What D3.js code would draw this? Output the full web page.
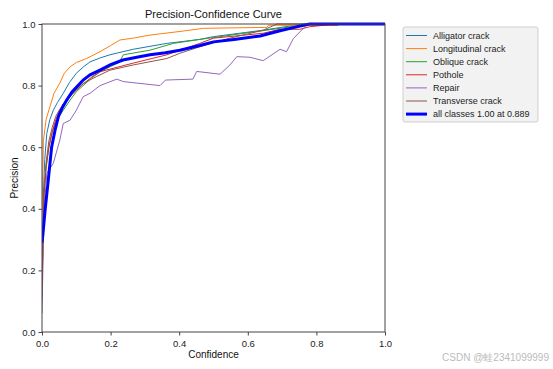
<!DOCTYPE html>
<html>
<head>
<meta charset="utf-8">
<script src="https://cdn.jsdelivr.net/npm/d3@7"></script>
<style>
  body { margin: 0; background: #fff; }
  text { font-family: "Liberation Sans", Arial, sans-serif; }
</style>
</head>
<body>
<div id="chart"></div>
<script>
// Precision-Confidence curve, values

var classNames = ["Alligator crack", "Longitudinal crack", "Oblique crack", "Pothole", "Repair", "Transverse crack"]
var allLabel = "all classes 1.00 at 0.889"

var alligatorConf = [0, 0.003, 0.008, 0.014, 0.023, 0.033, 0.045, 0.062, 0.08, 0.1, 0.12, 0.14, 0.17, 0.198, 0.266, 0.364, 0.46, 0.5, 0.645, 0.743, 0.76, 1]
var alligatorPrec = [0.1, 0.42, 0.56, 0.645, 0.69, 0.72, 0.745, 0.775, 0.81, 0.84, 0.86, 0.877, 0.89, 0.9, 0.918, 0.937, 0.95, 0.959, 0.98, 0.997, 1, 1]

var longConf = [0, 0.004, 0.012, 0.023, 0.035, 0.052, 0.065, 0.082, 0.1, 0.13, 0.169, 0.2, 0.227, 0.27, 0.315, 0.411, 0.47, 0.656, 0.66, 0.86, 0.87, 1]
var longPrec = [0.35, 0.62, 0.69, 0.731, 0.775, 0.808, 0.84, 0.861, 0.875, 0.888, 0.91, 0.93, 0.948, 0.955, 0.964, 0.977, 0.986, 0.989, 0.996, 0.995, 1, 1]

var obliqueConf = [0, 0.006, 0.012, 0.02, 0.03, 0.04, 0.05, 0.062, 0.082, 0.1, 0.12, 0.145, 0.17, 0.2, 0.225, 0.237, 0.315, 0.383, 0.46, 0.5, 0.694, 0.763, 0.78, 1]
var obliquePrec = [0.2, 0.45, 0.53, 0.6, 0.65, 0.68, 0.7, 0.72, 0.753, 0.78, 0.8, 0.825, 0.845, 0.862, 0.875, 0.9, 0.915, 0.937, 0.95, 0.956, 0.986, 0.997, 1, 1]

var potholeConf = [0, 0.006, 0.012, 0.02, 0.03, 0.04, 0.05, 0.062, 0.082, 0.1, 0.12, 0.145, 0.169, 0.266, 0.364, 0.46, 0.5, 0.645, 0.694, 0.752, 0.78, 0.83, 0.84, 1]
var potholePrec = [0.15, 0.45, 0.54, 0.6, 0.65, 0.69, 0.715, 0.74, 0.765, 0.785, 0.805, 0.828, 0.845, 0.873, 0.9, 0.937, 0.954, 0.97, 0.983, 0.983, 0.991, 0.997, 1, 1]

var repairConf = [0, 0.006, 0.014, 0.033, 0.052, 0.062, 0.082, 0.1, 0.12, 0.14, 0.169, 0.218, 0.237, 0.344, 0.36, 0.44, 0.451, 0.519, 0.548, 0.568, 0.606, 0.645, 0.694, 0.713, 0.733, 0.772, 0.78, 1]
var repairPrec = [0.06, 0.4, 0.515, 0.548, 0.623, 0.677, 0.688, 0.72, 0.764, 0.775, 0.8, 0.821, 0.813, 0.8, 0.818, 0.821, 0.846, 0.837, 0.867, 0.894, 0.892, 0.881, 0.918, 0.91, 0.953, 0.997, 1, 1]

var transConf = [0, 0.006, 0.012, 0.02, 0.03, 0.04, 0.05, 0.062, 0.09, 0.12, 0.16, 0.198, 0.266, 0.364, 0.402, 0.46, 0.548, 0.645, 0.685, 0.7, 1]
var transPrec = [0.12, 0.45, 0.55, 0.62, 0.665, 0.7, 0.72, 0.74, 0.775, 0.807, 0.83, 0.85, 0.867, 0.888, 0.905, 0.926, 0.954, 0.98, 1, 1, 1]

var allConf = [0, 0.002, 0.009, 0.018, 0.028, 0.038, 0.048, 0.06, 0.072, 0.088, 0.105, 0.12, 0.14, 0.169, 0.2, 0.236, 0.28, 0.315, 0.36, 0.402, 0.46, 0.5, 0.56, 0.636, 0.694, 0.752, 0.78, 1]
var allPrec = [0.29, 0.31, 0.395, 0.49, 0.6, 0.655, 0.7, 0.73, 0.753, 0.78, 0.8, 0.818, 0.835, 0.85, 0.868, 0.883, 0.893, 0.9, 0.907, 0.915, 0.93, 0.942, 0.95, 0.961, 0.978, 0.993, 1, 1]

var colors = ["#1f77b4", "#ff7f0e", "#2ca02c", "#d62728", "#9467bd", "#8c564b"]
var xTicks = [0, 0.2, 0.4, 0.6, 0.8, 1.0]
var yTicks = [0, 0.2, 0.4, 0.6, 0.8, 1.0]

var series = [
  {conf: alligatorConf, prec: alligatorPrec},
  {conf: longConf, prec: longPrec},
  {conf: obliqueConf, prec: obliquePrec},
  {conf: potholeConf, prec: potholePrec},
  {conf: repairConf, prec: repairPrec},
  {conf: transConf, prec: transPrec}
]

var width = 553, height = 369
var margin = {top: 24, left: 42, right: 168, bottom: 37}

var svg = d3.select("#chart")
  .append("svg")
    .attr("width", width)
    .attr("height", height)

var x = d3.scaleLinear().domain([0, 1]).range([margin.left, width - margin.right])
var y = d3.scaleLinear().domain([0, 1]).range([height - margin.bottom, margin.top])

var line = d3.line()
  .x(function(d) { return x(d[0]) })
  .y(function(d) { return y(d[1]) })

var clip = svg.append("clipPath").attr("id", "clip")
  .append("rect")
    .attr("x", x(0)).attr("y", y(1) - 2)
    .attr("width", x(1) - x(0)).attr("height", y(0) - y(1) + 2)

var plot = svg.append("g").attr("clip-path", "url(#clip)")

// one thin line per class
series.forEach(function(s, i) {
  plot.append("path")
    .attr("d", line(d3.zip(s.conf, s.prec)))
    .attr("fill", "none")
    .attr("stroke", colors[i])
    .attr("stroke-width", 1)
})

// mean over all classes
plot.append("path")
  .attr("d", line(d3.zip(allConf, allPrec)))
  .attr("fill", "none")
  .attr("stroke", "#0000ff")
  .attr("stroke-width", 3)

// axes
var fmt = d3.format(".1f")
var xAxis = svg.append("g")
  .attr("transform", "translate(0," + y(0) + ")")
  .call(d3.axisBottom(x).tickValues(xTicks).tickFormat(fmt).tickSize(3.5).tickSizeOuter(0))
var yAxis = svg.append("g")
  .attr("transform", "translate(" + x(0) + ",0)")
  .call(d3.axisLeft(y).tickValues(yTicks).tickFormat(fmt).tickSize(3.5).tickSizeOuter(0))

;[xAxis, yAxis].forEach(function(a) {
  a.selectAll("text").attr("font-size", 9.5).attr("fill", "#222")
  a.selectAll("line").attr("stroke", "#444")
  a.select(".domain").remove()
})
xAxis.selectAll("text").attr("dy", "0.9em")

// frame
svg.append("rect")
  .attr("x", x(0)).attr("y", y(1))
  .attr("width", x(1) - x(0)).attr("height", y(0) - y(1))
  .attr("fill", "none")
  .attr("stroke", "#444")
  .attr("stroke-width", 1)

// titles
svg.append("text")
  .attr("x", (x(0) + x(1)) / 2).attr("y", 18)
  .attr("text-anchor", "middle")
  .attr("font-size", 11)
  .attr("fill", "#111")
  .text("Precision-Confidence Curve")

svg.append("text")
  .attr("x", (x(0) + x(1)) / 2).attr("y", 358)
  .attr("text-anchor", "middle")
  .attr("font-size", 10)
  .attr("fill", "#111")
  .text("Confidence")

svg.append("text")
  .attr("transform", "translate(18," + (y(0) + y(1)) / 2 + ") rotate(-90)")
  .attr("text-anchor", "middle")
  .attr("font-size", 10)
  .attr("fill", "#111")
  .text("Precision")

// legend
var legend = svg.append("g").attr("transform", "translate(403,27)")
legend.append("rect")
  .attr("width", 135).attr("height", 95)
  .attr("rx", 2)
  .attr("fill", "#f2f2f2")
  .attr("stroke", "#cfcfcf")

var legendItems = classNames.map(function(n, i) { return {name: n, color: colors[i], w: 1} })
legendItems.push({name: allLabel, color: "#0000ff", w: 3})

legendItems.forEach(function(d, i) {
  var yy = 8.5 + i * 13.1
  legend.append("line")
    .attr("x1", 3).attr("x2", 24)
    .attr("y1", yy).attr("y2", yy)
    .attr("stroke", d.color)
    .attr("stroke-width", d.w)
  legend.append("text")
    .attr("x", 30).attr("y", yy)
    .attr("dy", "0.35em")
    .attr("font-size", 9)
    .attr("fill", "#222")
    .text(d.name)
})

// watermark
svg.append("text")
  .attr("x", 549).attr("y", 361)
  .attr("text-anchor", "end")
  .attr("font-size", 10)
  .attr("fill", "#bbb")
  .attr("font-family", "'Noto Sans CJK SC', sans-serif")
  .text("CSDN @蛙2341099999")
</script>
</body>
</html>
